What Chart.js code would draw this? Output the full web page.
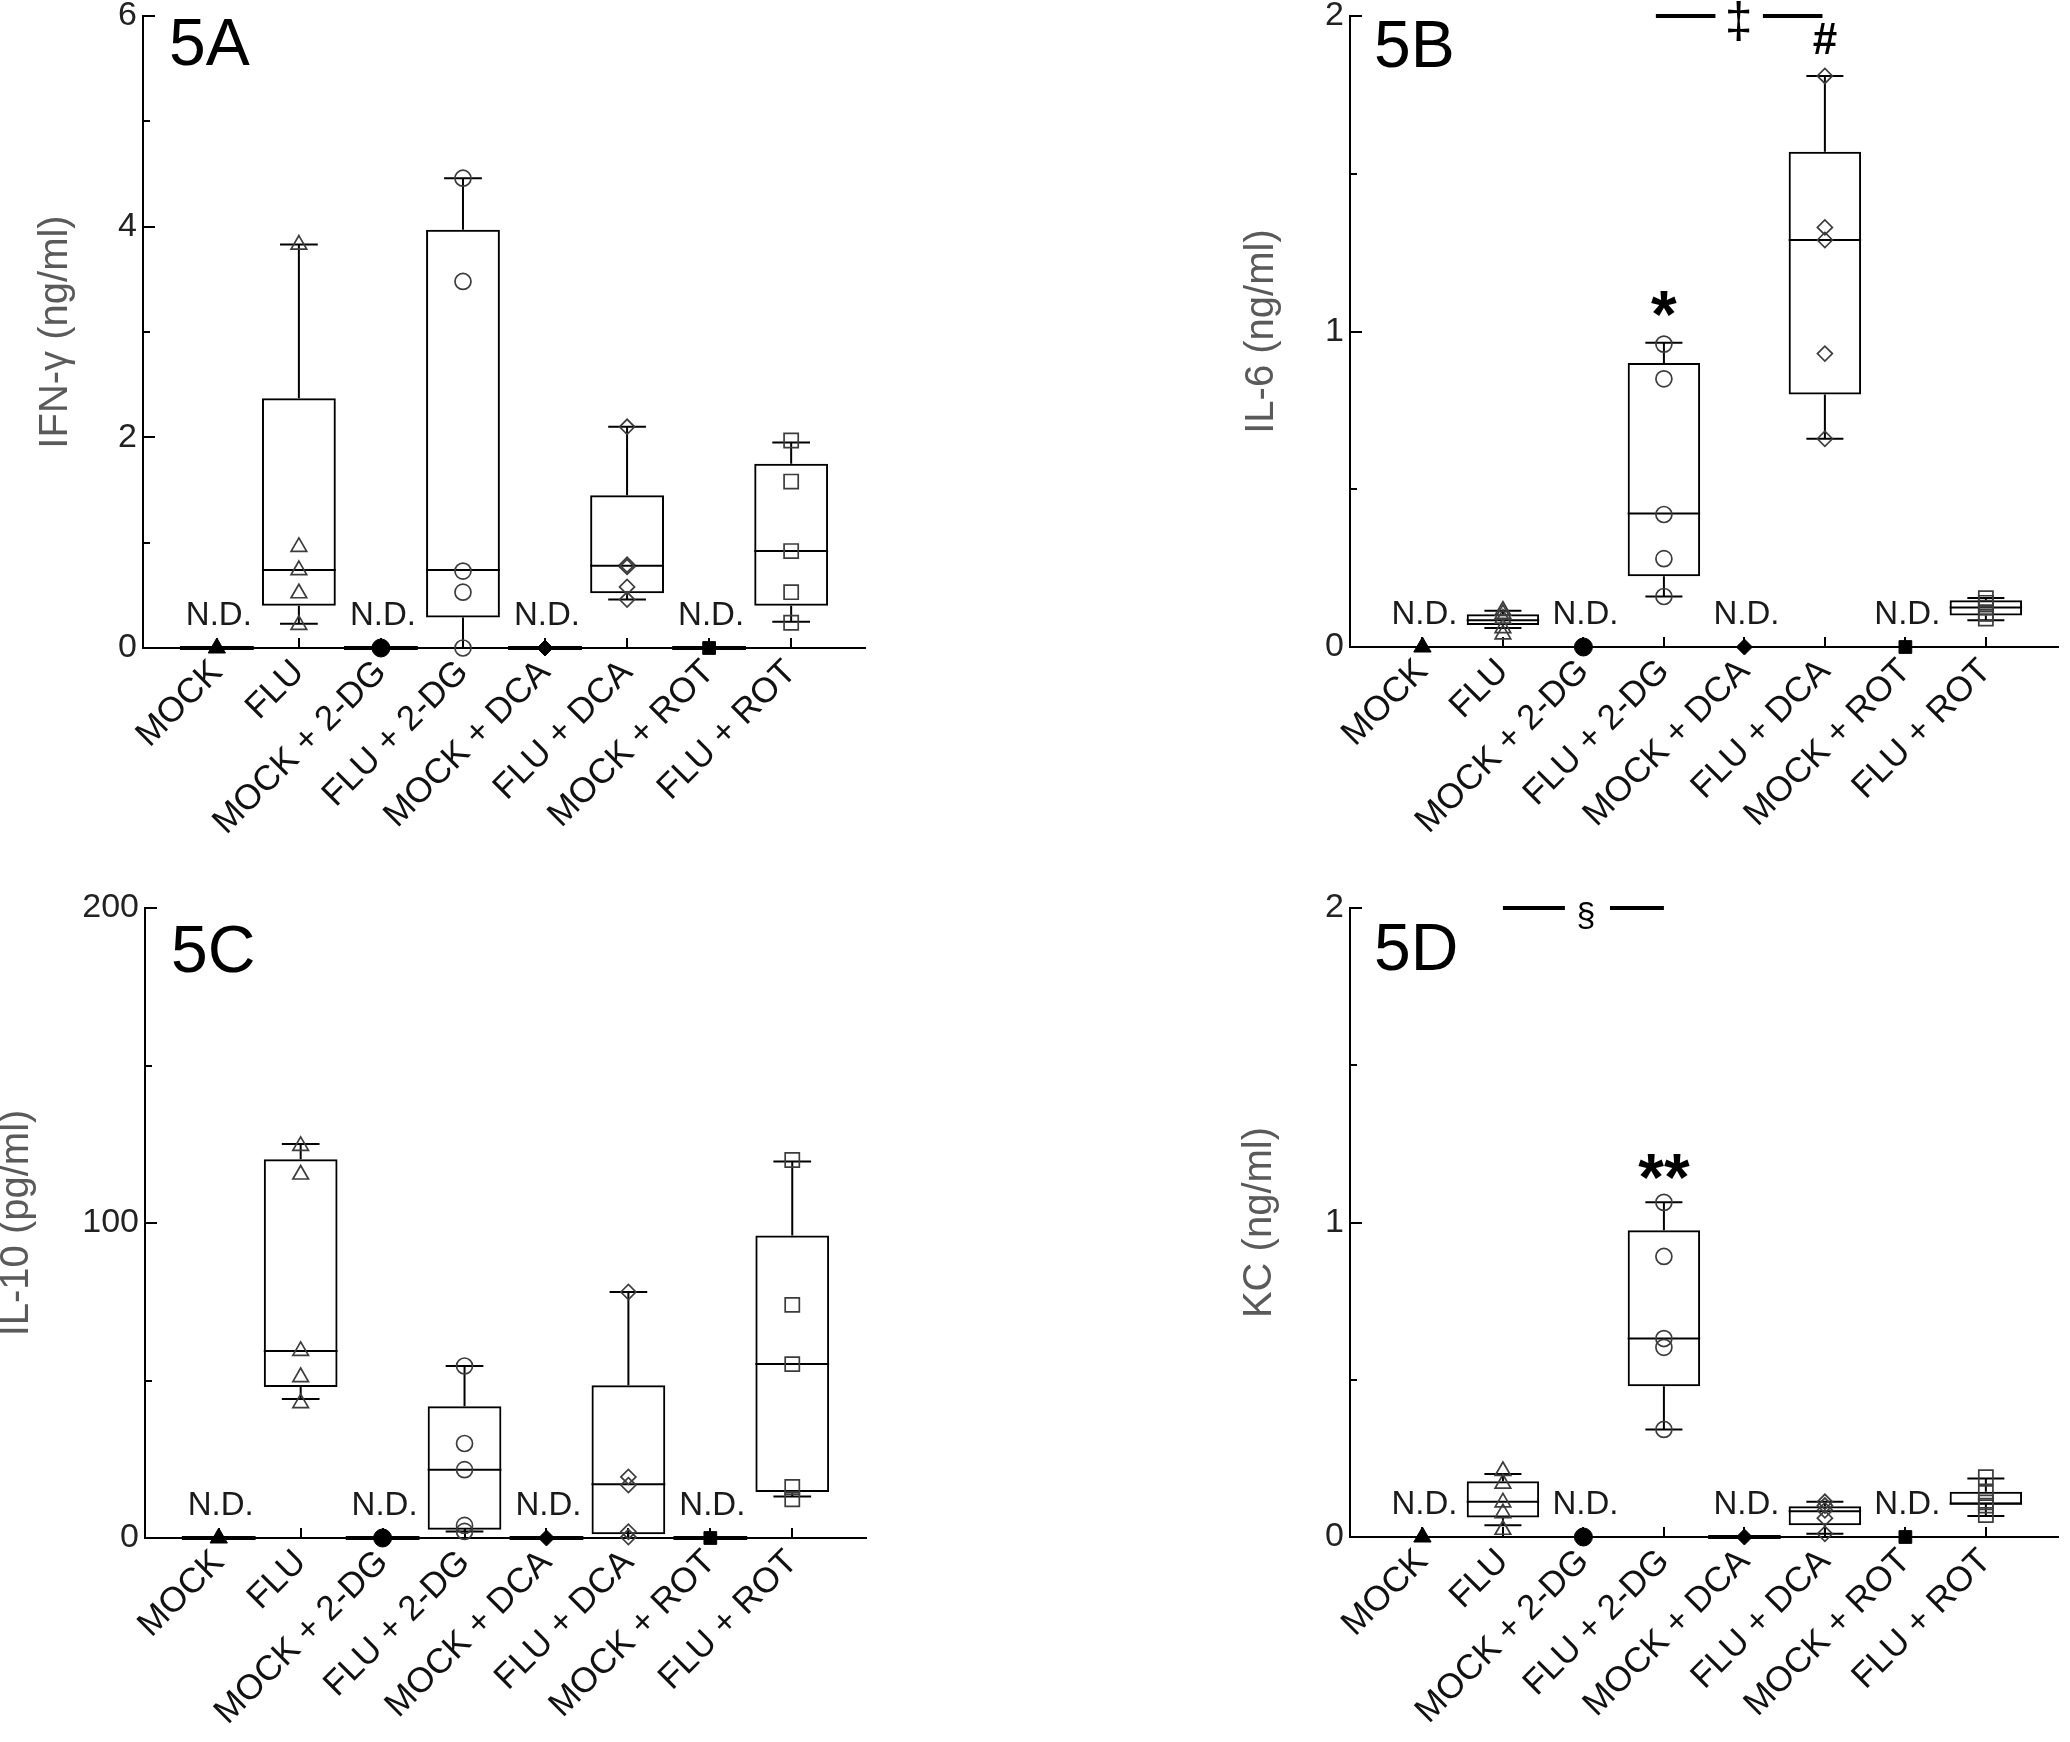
<!DOCTYPE html>
<html><head><meta charset="utf-8">
<script src="https://cdn.jsdelivr.net/npm/chart.js@4/dist/chart.umd.min.js"></script>
<style>
html,body{margin:0;padding:0;background:#fff;}
body{width:2070px;height:1742px;position:relative;overflow:hidden;}
canvas{position:absolute;}
</style></head><body>
<canvas id="ca" width="1035" height="870" style="left:0;top:0"></canvas>
<canvas id="cb" width="863" height="870" style="left:1207px;top:0"></canvas>
<canvas id="cc" width="1035" height="872" style="left:0;top:870px"></canvas>
<canvas id="cd" width="863" height="872" style="left:1207px;top:870px"></canvas>
<script>
// ---------- shared categories ----------
const categories = ['MOCK','FLU','MOCK + 2-DG','FLU + 2-DG','MOCK + DCA','FLU + DCA','MOCK + ROT','FLU + ROT'];
const boxCats = [1,3,5,7];      // infected groups with box plots
const ndCats = [0,2,4,6];       // not detected groups

// ---------- 5A IFN-γ (ng/ml) ----------
const ifnLow    = [0.23, 0.00, 0.46, 0.25];
const ifnQ1     = [0.40, 0.29, 0.52, 0.40];
const ifnMedian = [0.74, 0.74, 0.78, 0.92];
const ifnQ3     = [2.37, 3.97, 1.45, 1.75];
const ifnHigh   = [3.83, 4.46, 2.10, 1.95];
const ifnFlu    = [3.83, 0.96, 0.74, 0.52, 0.22];
const ifnFlu2DG = [4.46, 3.48, 0.73, 0.53, 0.00];
const ifnFluDCA = [2.10, 0.79, 0.77, 0.58, 0.46];
const ifnFluROT = [1.97, 1.58, 0.92, 0.53, 0.24];
const ifnTicks  = [0, 2, 4, 6];
const ifnMinor  = [1, 3, 5];

// ---------- 5B IL-6 (ng/ml) ----------
const il6Low    = [0.06, 0.16, 0.66, 0.085];
const il6Q1     = [0.07, 0.224, 0.80, 0.10];
const il6Median = [0.085, 0.423, 1.29, 0.125];
const il6Q3     = [0.104, 0.90, 1.57, 0.148];
const il6High   = [0.115, 0.964, 1.81, 0.155];
const il6Flu    = [0.115, 0.105, 0.09, 0.06, 0.04];
const il6Flu2DG = [0.96, 0.85, 0.42, 0.28, 0.16];
const il6FluDCA = [1.81, 1.33, 1.29, 0.93, 0.66];
const il6FluROT = [0.155, 0.14, 0.125, 0.105, 0.09];
const il6Ticks  = [0, 1, 2];
const il6Minor  = [0.5, 1.5];

// ---------- 5C IL-10 (pg/ml) ----------
const il10Low    = [44.1, 2.1, 0.0, 13.2];
const il10Q1     = [47.9, 2.6, 1.2, 14.6];
const il10Median = [59.4, 21.7, 17.1, 55.2];
const il10Q3     = [120.2, 41.8, 48.5, 96.0];
const il10High   = [125.1, 54.6, 78.1, 119.5];
const il10Flu    = [124.5, 115.4, 59.4, 51.1, 42.8];
const il10Flu2DG = [54.6, 30.0, 21.7, 4.0, 2.1];
const il10FluDCA = [78.1, 19.4, 16.8, 2.0, 0.3];
const il10FluROT = [120.0, 74.0, 55.2, 16.2, 12.3];
const il10Ticks  = [0, 100, 200];
const il10Minor  = [50, 150];

// ---------- 5D KC (ng/ml) ----------
const kcLow    = [0.037, 0.342, 0.01, 0.067];
const kcQ1     = [0.062, 0.479, 0.037, 0.103];
const kcMedian = [0.112, 0.631, 0.082, 0.106];
const kcQ3     = [0.177, 0.975, 0.098, 0.144];
const kcHigh   = [0.20, 1.064, 0.112, 0.186];
const kcFlu    = [0.21, 0.17, 0.11, 0.076, 0.023];
const kcFlu2DG = [1.064, 0.892, 0.631, 0.603, 0.342];
const kcFluDCA = [0.112, 0.10, 0.085, 0.06, 0.01];
const kcFluROT = [0.19, 0.14, 0.11, 0.10, 0.07];
const kcTicks  = [0, 1, 2];
const kcMinor  = [0.5, 1.5];

// ---------- styling ----------
const FONT = '"Liberation Sans", Arial, Helvetica, sans-serif';
const openStyles = ['triangle','circle','rectRot','rect'];
const openRadius = [9, 8, 7.5, 10];
const ndStyles = ['triangle','circle','rectRot','rect'];
const ndRadius = [10, 9, 8, 9];

const panels = [
  { id:'ca', label:'5A', title:'IFN-\u03b3 (ng/ml)', yMax:6, ticks:ifnTicks, minor:ifnMinor,
    lo:ifnLow, q1:ifnQ1, med:ifnMedian, q3:ifnQ3, hi:ifnHigh,
    points:[ifnFlu, ifnFlu2DG, ifnFluDCA, ifnFluROT], ndY:0.218, ndLine:[true,true,true,true],
    lines:[], marks:[],
    lay:{w:1035,h:870,axisX:143,top:16,bottom:648,right:865,titleC:56,labX:26,labY:49} },
  { id:'cb', label:'5B', title:'IL-6 (ng/ml)', yMax:2, ticks:il6Ticks, minor:il6Minor,
    lo:il6Low, q1:il6Q1, med:il6Median, q3:il6Q3, hi:il6High,
    points:[il6Flu, il6Flu2DG, il6FluDCA, il6FluROT], ndY:0.072, ndLine:[false,false,false,false],
    lines:[[2.9,3.64,2],[4.23,4.97,2]],
    marks:[{x:3,y:0.982,t:'*',f:'bold 66px'},{x:3.93,y:1.933,t:'\u2021',f:'50px'},{x:5,y:1.879,t:'#',f:'bold 44px'}],
    lay:{w:863,h:870,axisX:143,top:16,bottom:647,right:863,titleC:55,labX:24,labY:51} },
  { id:'cc', label:'5C', title:'IL-10 (pg/ml)', yMax:200, ticks:il10Ticks, minor:il10Minor,
    lo:il10Low, q1:il10Q1, med:il10Median, q3:il10Q3, hi:il10High,
    points:[il10Flu, il10Flu2DG, il10FluDCA, il10FluROT], ndY:7.3, ndLine:[true,true,true,true],
    lines:[], marks:[],
    lay:{w:1035,h:872,axisX:145,top:38,bottom:668,right:866,titleC:17,labX:26,labY:64} },
  { id:'cd', label:'5D', title:'KC (ng/ml)', yMax:2, ticks:kcTicks, minor:kcMinor,
    lo:kcLow, q1:kcQ1, med:kcMedian, q3:kcQ3, hi:kcHigh,
    points:[kcFlu, kcFlu2DG, kcFluDCA, kcFluROT], ndY:0.072, ndLine:[false,false,true,false],
    lines:[[1.0,1.77,2],[2.33,3.0,2]],
    marks:[{x:3,y:1.07,t:'**',f:'bold 66px'},{x:2.03,y:1.943,t:'\u00a7',f:'34px'}],
    lay:{w:863,h:872,axisX:143,top:38,bottom:667,right:863,titleC:53,labX:24,labY:62} }
];

// ---------- plugins (draw through the chart scales) ----------
const boxPlugin = {
  id:'boxextras',
  beforeDatasetsDraw(chart, args, o) {
    const {ctx, scales:{x, y}, chartArea:a} = chart;
    const bars = chart.getDatasetMeta(0).data;
    ctx.save();
    ctx.strokeStyle = '#000';
    ctx.lineWidth = 2;
    ctx.lineCap = 'butt';
    // inward ticks
    ctx.beginPath();
    y.ticks.forEach(t => { const py = Math.round(y.getPixelForValue(t.value)); ctx.moveTo(a.left, py); ctx.lineTo(a.left + 12, py); });
    o.minor.forEach(v => { const py = Math.round(y.getPixelForValue(v)); ctx.moveTo(a.left, py); ctx.lineTo(a.left + 7, py); });
    x.ticks.forEach(t => { const px = Math.round(x.getPixelForValue(t.value)); ctx.moveTo(px, a.bottom); ctx.lineTo(px, a.bottom - 10); });
    ctx.stroke();
    // whiskers, caps, medians
    ctx.beginPath();
    boxCats.forEach((c, i) => {
      const px = x.getPixelForValue(c);
      const capHalf = x.getPixelForValue(c + 0.23) - px;
      const half = bars[i] ? bars[i].width / 2 : 36;
      const yq1 = y.getPixelForValue(o.q1[i]), yq3 = y.getPixelForValue(o.q3[i]);
      const ylo = y.getPixelForValue(o.lo[i]), yhi = y.getPixelForValue(o.hi[i]);
      const ym = y.getPixelForValue(o.med[i]);
      ctx.moveTo(px, yq3); ctx.lineTo(px, yhi);
      ctx.moveTo(px, yq1); ctx.lineTo(px, ylo);
      ctx.moveTo(px - capHalf, yhi); ctx.lineTo(px + capHalf, yhi);
      ctx.moveTo(px - capHalf, ylo); ctx.lineTo(px + capHalf, ylo);
      ctx.moveTo(px - half, ym); ctx.lineTo(px + half, ym);
    });
    ctx.stroke();
    // collapsed boxes for not-detected groups
    ctx.lineWidth = 4;
    ctx.beginPath();
    ndCats.forEach((c, i) => {
      if (!o.ndLine[i]) return;
      const px = x.getPixelForValue(c);
      const half = bars[0] ? bars[0].width / 2 : 36;
      const py = y.getPixelForValue(0);
      ctx.moveTo(px - half, py); ctx.lineTo(px + half, py);
    });
    ctx.stroke();
    ctx.restore();
  }
};

const annotPlugin = {
  id:'annot',
  afterDatasetsDraw(chart, args, o) {
    const {ctx, scales:{x, y}, chartArea:a} = chart;
    ctx.save();
    ctx.fillStyle = '#1a1a1a';
    ctx.textAlign = 'center';
    ctx.textBaseline = 'alphabetic';
    ctx.font = '33px ' + FONT;
    ndCats.forEach(c => ctx.fillText('N.D.', x.getPixelForValue(c) + 2, y.getPixelForValue(o.ndY)));
    // significance bars
    ctx.strokeStyle = '#000';
    ctx.lineWidth = 4;
    ctx.beginPath();
    o.lines.forEach(l => { const py = y.getPixelForValue(l[2]); ctx.moveTo(x.getPixelForValue(l[0]), py); ctx.lineTo(x.getPixelForValue(l[1]), py); });
    ctx.stroke();
    ctx.fillStyle = '#000';
    o.marks.forEach(m => { ctx.font = m.f + ' ' + FONT; ctx.fillText(m.t, x.getPixelForValue(m.x), y.getPixelForValue(m.y)); });
    // panel label
    ctx.textAlign = 'left';
    ctx.font = '66px ' + FONT;
    ctx.fillText(o.label, a.left + o.labX, a.top + o.labY);
    ctx.restore();
  }
};

function makeChart(p) {
  const L = p.lay;
  const datasets = [];
  datasets.push({
    type:'bar', order:5, clip:false,
    data: boxCats.map((c, i) => ({x:c, y:[p.q1[i], p.q3[i]]})),
    backgroundColor:'rgba(0,0,0,0)', borderColor:'#000', borderWidth:2, borderSkipped:false,
    barPercentage:1, categoryPercentage:0.9
  });
  p.points.forEach((arr, k) => datasets.push({
    type:'scatter', order:1, clip:false,
    data: arr.map(v => ({x:boxCats[k], y:v})),
    pointStyle: openStyles[k], pointRadius: openRadius[k], pointBorderWidth:1.7,
    borderColor:'#3c3c3c', backgroundColor:'rgba(0,0,0,0)', showLine:false
  }));
  datasets.push({
    type:'scatter', order:0, clip:false,
    data: ndCats.map(c => ({x:c, y:0})),
    pointStyle: ndStyles, pointRadius: ndRadius, pointBorderWidth:1,
    borderColor:'#000', backgroundColor:'#000', showLine:false
  });
  new Chart(document.getElementById(p.id), {
    type:'bar',
    data:{ datasets },
    plugins:[boxPlugin, annotPlugin],
    options:{
      responsive:false, animation:false, events:[],
      layout:{ padding:{ left:0, top:L.top, right:L.w - L.right, bottom:0 } },
      plugins:{
        legend:{display:false}, tooltip:{enabled:false},
        boxextras:{ q1:p.q1, q3:p.q3, med:p.med, lo:p.lo, hi:p.hi, minor:p.minor, ndLine:p.ndLine },
        annot:{ ndY:p.ndY, lines:p.lines, marks:p.marks, label:p.label, labX:L.labX, labY:L.labY }
      },
      scales:{
        x:{
          type:'linear', min:-0.9, max:7.9, offset:false,
          grid:{display:false, drawTicks:false, offset:false},
          border:{display:true, color:'#000', width:2},
          afterBuildTicks: s => { s.ticks = categories.map((c, i) => ({value:i})); },
          afterFit: s => { s.height = L.h - L.bottom; s.paddingLeft = 0; s.paddingRight = 0; },
          ticks:{ autoSkip:false, minRotation:45, maxRotation:45, padding:4, color:'#111',
                  font:{family:FONT, size:35}, callback: v => categories[v] }
        },
        y:{
          type:'linear', min:0, max:p.yMax,
          grid:{display:false, drawTicks:false},
          border:{display:true, color:'#000', width:2},
          afterBuildTicks: s => { s.ticks = p.ticks.map(v => ({value:v})); },
          afterFit: s => { s.width = L.axisX; s.paddingTop = 0; s.paddingBottom = 0; },
          ticks:{ padding:6, color:'#222', font:{family:FONT, size:34}, callback: v => String(v) },
          title:{ display:true, text:p.title, color:'#5a5a5a',
                  font:{family:FONT, size:40, lineHeight:1}, padding:{top:L.titleC - 20, bottom:0} }
        }
      }
    }
  });
}
panels.forEach(makeChart);
</script>
</body></html>
